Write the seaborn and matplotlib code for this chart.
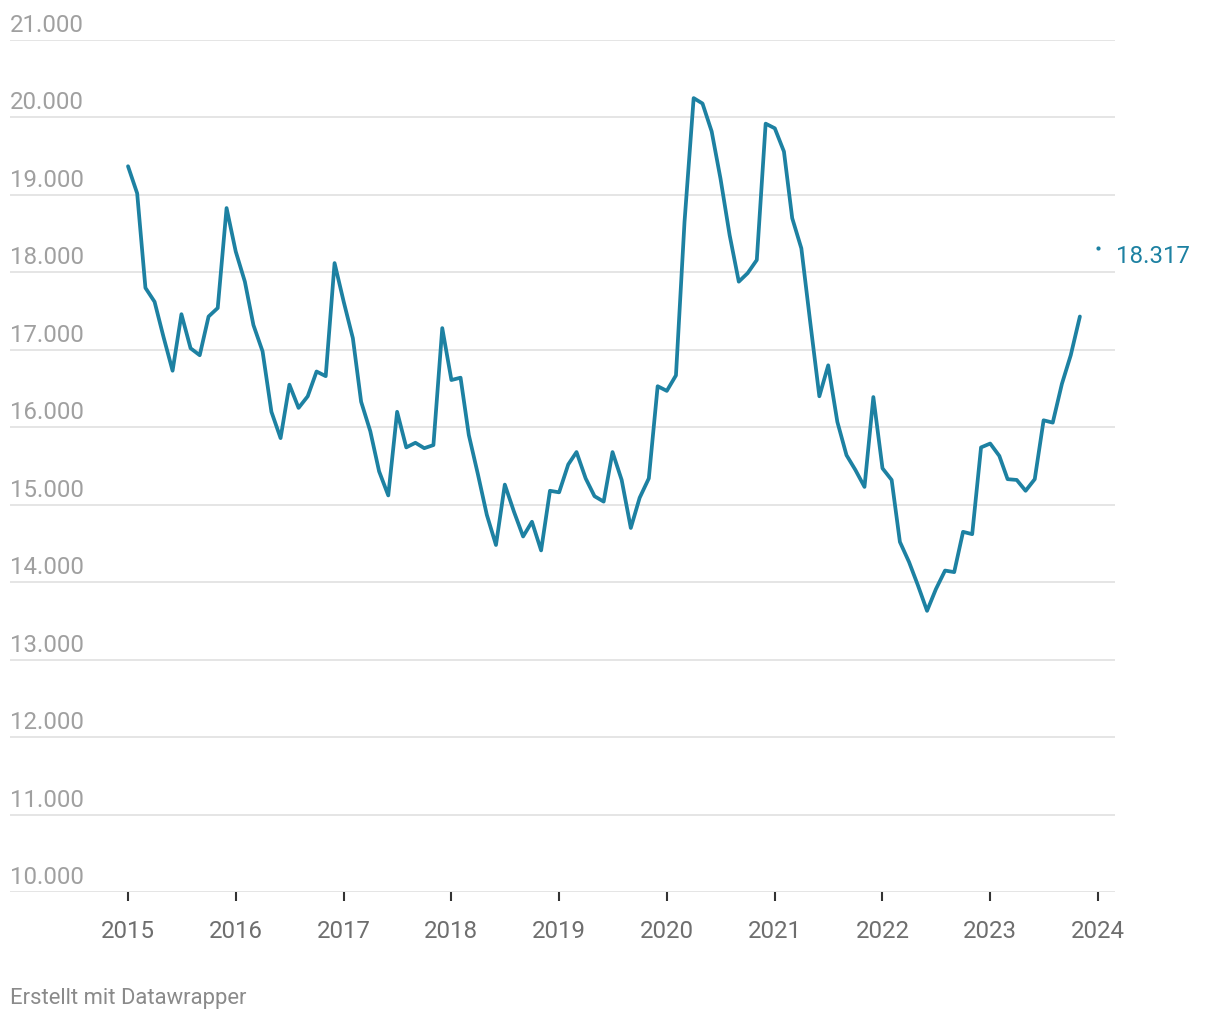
import numpy as np
import pandas as pd
import matplotlib
matplotlib.use("Agg")
import matplotlib.pyplot as plt
import matplotlib.transforms as mtransforms
import seaborn as sns

# ---------------- data ----------------
start_month = "2015-01-01"
values = [
    19370, 19020, 17800, 17620, 17170, 16730, 17460, 17020, 16930, 17430, 17540, 18830,  # 2015
    18270, 17880, 17320, 16980, 16200, 15860, 16550, 16250, 16400, 16720, 16660, 18120,  # 2016
    17620, 17150, 16330, 15950, 15430, 15120, 16200, 15740, 15800, 15730, 15770, 17280,  # 2017
    16610, 16640, 15900, 15390, 14870, 14480, 15260, 14910, 14590, 14780, 14410, 15180,  # 2018
    15160, 15520, 15680, 15340, 15110, 15040, 15680, 15320, 14700, 15090, 15340, 16530,  # 2019
    16470, 16670, 18650, 20250, 20180, 19820, 19210, 18480, 17880, 17990, 18160, 19920,  # 2020
    19860, 19560, 18700, 18310, 17360, 16400, 16800, 16070, 15640, 15450, 15230, 16390,  # 2021
    15470, 15320, 14520, 14260, 13960, 13630, 13910, 14150, 14130, 14650, 14620, 15740,  # 2022
    15790, 15630, 15330, 15320, 15180, 15330, 16090, 16060, 16560, 16930, 17430,         # 2023 (Jan-Nov)
]
last_date = "2024-01-01"
last_value = 18317
last_label = "18.317"
year_ticks = list(range(2015, 2025))
y_ticks = list(range(10000, 22000, 1000))
y_tick_labels = [f"{v:,}".replace(",", ".") for v in y_ticks]
footer = "Erstellt mit Datawrapper"

dates = pd.date_range(start_month, periods=len(values), freq="MS")
df = pd.DataFrame({"date": dates, "value": values})
df_last = pd.DataFrame({"date": [pd.Timestamp(last_date)], "value": [last_value]})

# ---------------- style ----------------
sns.set_theme(style="white")
plt.rcParams["font.family"] = ["Roboto", "DejaVu Sans"]

LINE = "#1d81a2"
GRID = "#e3e3e3"
YLAB = "#a0a0a0"
XLAB = "#6e6e6e"
FS = 17.3

W, H = 1220, 1020
fig = plt.figure(figsize=(W / 100, H / 100), dpi=100)
ax = fig.add_axes([10 / W, (H - 893) / H, 1105 / W, 852 / H])

sns.lineplot(data=df, x="date", y="value", ax=ax, color=LINE, linewidth=2.7,
             solid_joinstyle="round", solid_capstyle="round", zorder=3)
sns.scatterplot(data=df_last, x="date", y="value", ax=ax, color=LINE, s=9,
                linewidth=0, zorder=3)

ax.set_ylim(10000, 21000)
x0 = pd.Timestamp("2015-01-01") - pd.Timedelta(days=400)
x1 = pd.Timestamp("2024-01-01") + pd.Timedelta(days=58)
ax.set_xlim(x0, x1)

for s in ax.spines.values():
    s.set_visible(False)

# gridlines
for v in y_ticks:
    ax.axhline(v, color=GRID, linewidth=1.3, zorder=1)

# y labels above gridlines
ax.set_yticks([])
off = mtransforms.offset_copy(ax.get_yaxis_transform(), fig=fig, x=0, y=9, units="dots")
for v, lab in zip(y_ticks, y_tick_labels):
    ax.text(0, v, lab, transform=off, ha="left", va="baseline",
            fontsize=FS, color=YLAB)

# x ticks
tick_dates = [pd.Timestamp(f"{y}-01-01") for y in year_ticks]
ax.set_xticks(tick_dates)
ax.set_xticklabels([str(y) for y in year_ticks], fontsize=FS, color=XLAB)
ax.tick_params(axis="x", direction="out", length=6.5, width=1.5, color="#333333",
               pad=13, bottom=True)
ax.set_xlabel("")
ax.set_ylabel("")

# end label
lab_off = mtransforms.offset_copy(ax.transData, fig=fig, x=18, y=-8, units="dots")
ax.text(pd.Timestamp(last_date), last_value, last_label, transform=lab_off,
        ha="left", va="center", fontsize=FS, color=LINE, clip_on=False)

# footer
fig.text(10 / W, 1 - 999 / H, footer, ha="left", va="center", fontsize=15.8,
         color="#8a8a8a")

fig.savefig("out.png", dpi=100)
